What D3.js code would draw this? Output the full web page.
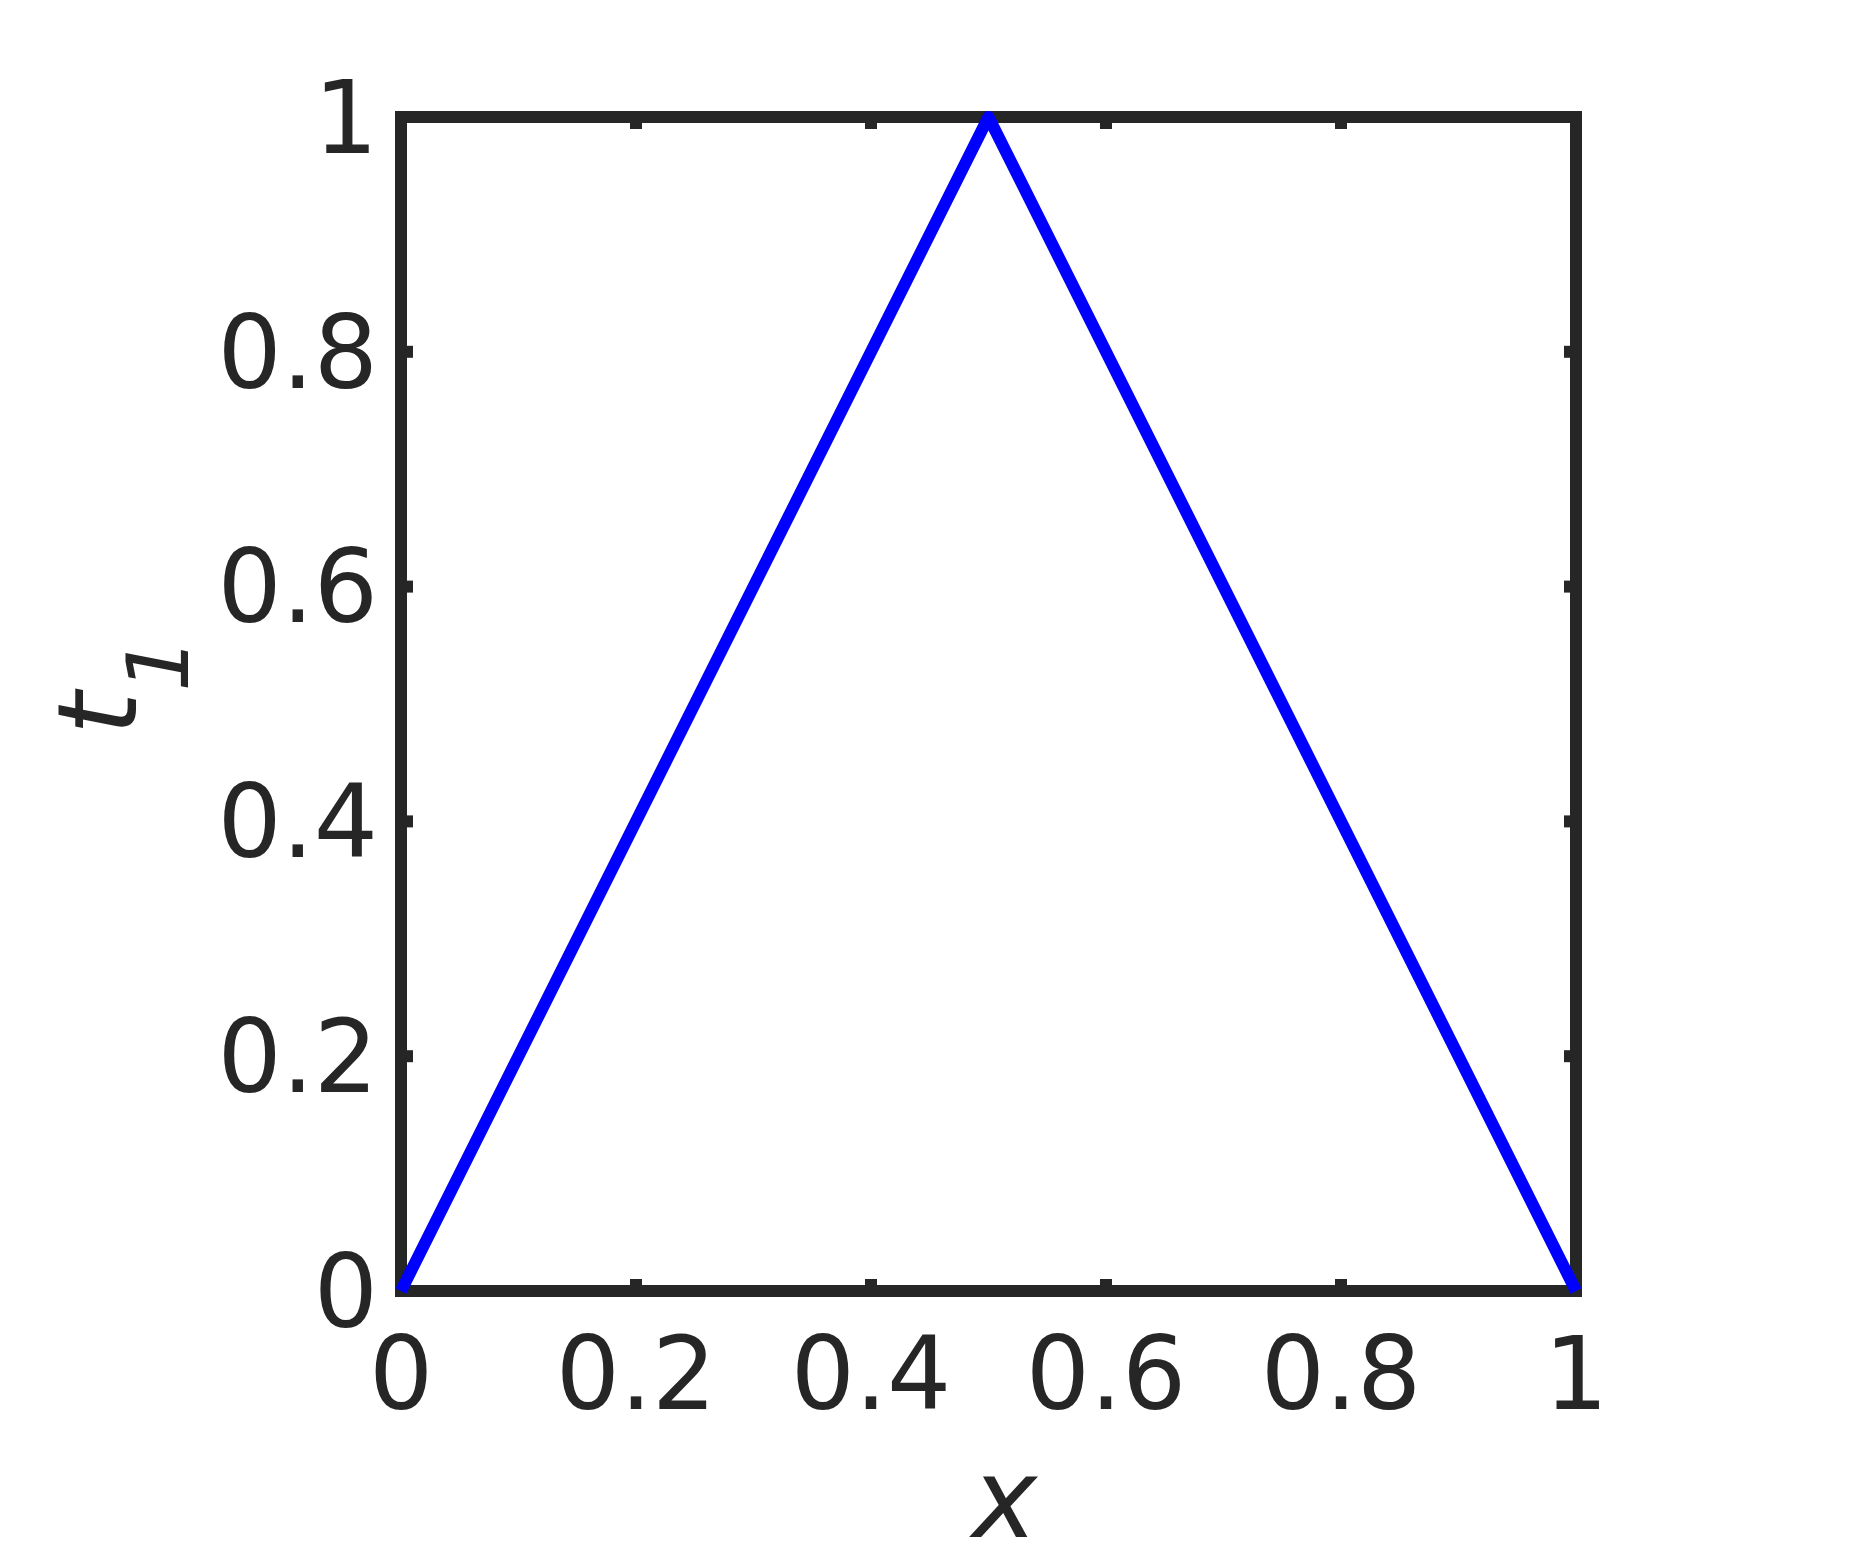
<!DOCTYPE html>
<html>
<head>
<meta charset="utf-8">
<title>t1 vs x</title>
<script src="https://cdn.jsdelivr.net/npm/d3@7"></script>
<style>
  body { margin: 0; background: #fff; }
  text { font-family: "DejaVu Sans", sans-serif; fill: #262626; }
</style>
</head>
<body>
<script>
// data
var xVals = [0, 0.5, 1];
var tVals = [0, 1, 0];
var xTicks = [0, 0.2, 0.4, 0.6, 0.8, 1];
var yTicks = [0, 0.2, 0.4, 0.6, 0.8, 1];

var w = 1875, h = 1563;
// plot box edges (note: "top" is reserved on window, so use other names)
var boxLeft = 401, boxRight = 1576, boxTop = 117, boxBottom = 1291;
var dark = "#262626";

var svg = d3.select("body").append("svg")
  .attr("width", w)
  .attr("height", h);

var x = d3.scaleLinear().domain([0, 1]).range([boxLeft, boxRight]);
var y = d3.scaleLinear().domain([0, 1]).range([boxBottom, boxTop]);

// helper to style an axis group
function styleAxis(g, showLabels) {
  g.select(".domain").remove();
  g.attr("transform", g.attr("transform"));
  g.selectAll(".tick")
    .attr("transform", function() {
      // drop d3's half-pixel offset so ticks sit on the box line
      return d3.select(this).attr("transform").replace(/\.5/g, "");
    });
  g.selectAll(".tick line")
    .attr("stroke", dark)
    .attr("stroke-width", 12);
  if (!showLabels) g.selectAll(".tick text").remove();
}

var fmt = function(d) { return String(d); };

// bottom axis with labels
var gx = svg.append("g")
  .attr("transform", "translate(0," + boxBottom + ")")
  .call(d3.axisBottom(x).tickValues(xTicks).tickFormat(fmt).tickSize(-12).tickSizeOuter(0).offset(0));
styleAxis(gx, true);
gx.selectAll(".tick text")
  .attr("y", 118)
  .attr("dy", 0)
  .style("font-size", "101px")
  .attr("fill", dark);

// top axis, ticks only
var gt = svg.append("g")
  .attr("transform", "translate(0," + boxTop + ")")
  .call(d3.axisTop(x).tickValues(xTicks).tickSize(-12).tickSizeOuter(0).offset(0));
styleAxis(gt, false);

// left axis with labels
var gy = svg.append("g")
  .attr("transform", "translate(" + boxLeft + ",0)")
  .call(d3.axisLeft(y).tickValues(yTicks).tickFormat(fmt).tickSize(-12).tickSizeOuter(0).offset(0));
styleAxis(gy, true);
gy.selectAll(".tick text")
  .attr("x", -23)
  .attr("dy", "0.355em")
  .style("font-size", "101px")
  .attr("fill", dark);

// right axis, ticks only
var gr = svg.append("g")
  .attr("transform", "translate(" + boxRight + ",0)")
  .call(d3.axisRight(y).tickValues(yTicks).tickSize(-12).tickSizeOuter(0).offset(0));
styleAxis(gr, false);

// box
svg.append("rect")
  .attr("x", boxLeft)
  .attr("y", boxTop)
  .attr("width", boxRight - boxLeft)
  .attr("height", boxBottom - boxTop)
  .attr("fill", "none")
  .attr("stroke", dark)
  .attr("stroke-width", 12);

// the curve
var pts = xVals.map(function(d, i) { return [d, tVals[i]]; });
svg.append("path")
  .datum(pts)
  .attr("fill", "none")
  .attr("stroke", "#0000ff")
  .attr("stroke-width", 12)
  .attr("stroke-linejoin", "round")
  .attr("d", d3.line().x(function(d) { return x(d[0]); }).y(function(d) { return y(d[1]); }));

// x label
svg.append("text")
  .attr("x", (boxLeft + boxRight) / 2 + 16)
  .attr("y", 1537)
  .attr("text-anchor", "middle")
  .style("font-size", "110px")
  .style("font-style", "italic")
  .text("x");

// y label t_1
var yl = svg.append("text")
  .attr("transform", "translate(136,735) rotate(-90)")
  .style("font-size", "110px")
  .style("font-style", "italic");
yl.append("tspan").text("t");
yl.append("tspan")
  .attr("dy", 52)
  .style("font-size", "86px")
  .text("1");
</script>
</body>
</html>
